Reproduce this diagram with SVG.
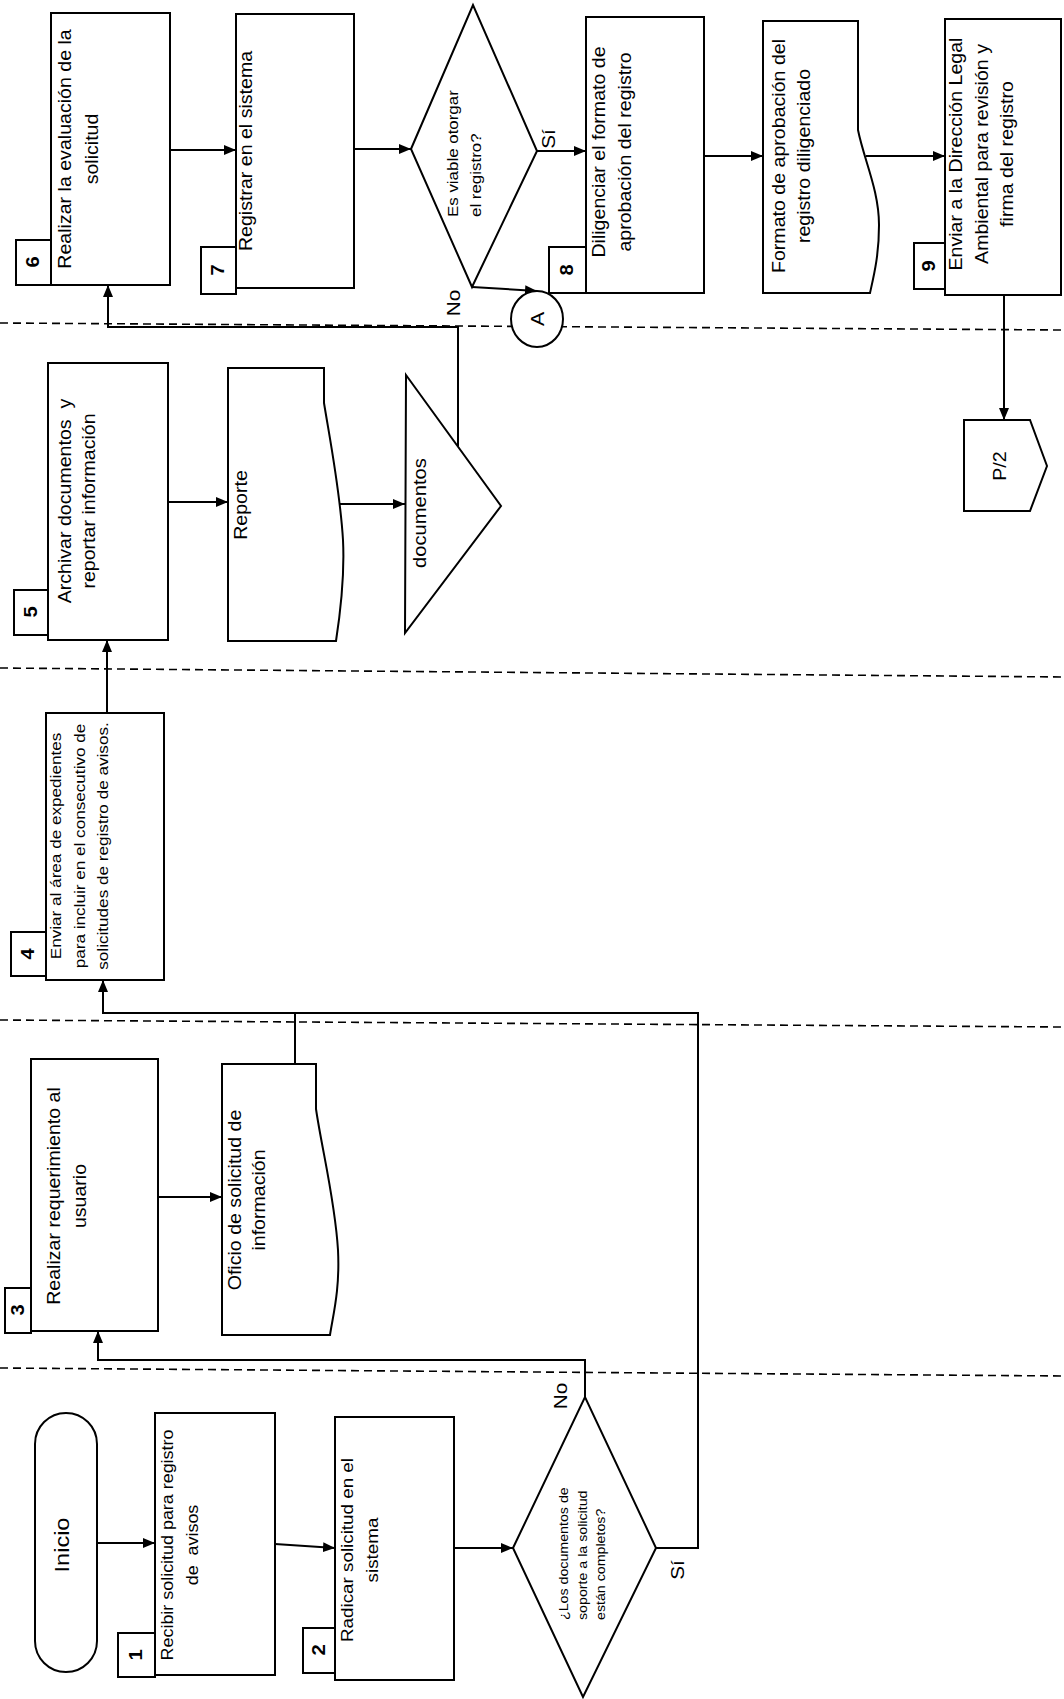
<svg xmlns="http://www.w3.org/2000/svg" width="1064" height="1699" viewBox="0 0 1064 1699">
<style>
.bg{fill:#fff}
.box{fill:#fff;stroke:#000;stroke-width:2}
.num{fill:#fff;stroke:#000;stroke-width:2}
.conn{fill:none;stroke:#000;stroke-width:2}
.dash{fill:none;stroke:#000;stroke-width:1.6;stroke-dasharray:8 5}
text{font-family:"Liberation Sans",Arial,sans-serif;fill:#000;dominant-baseline:central}
.t{font-size:17.5px}
.s{font-size:15.3px}
.d{font-size:12.7px}
.n{font-size:18px;font-weight:bold}
.lbl{font-size:18.5px}
</style>
<defs>
<marker id="arr" viewBox="0 0 12 10" refX="12" refY="5" markerWidth="12" markerHeight="10" markerUnits="userSpaceOnUse" orient="auto">
<path d="M0,0 L12,5 L0,10 z" fill="#000"/>
</marker>
</defs>
<rect class="bg" x="0" y="0" width="1064" height="1699"/>

<g id="lanes">
<line class="dash" x1="0" y1="323" x2="1064" y2="330"/>
<line class="dash" x1="0" y1="668" x2="1064" y2="677"/>
<line class="dash" x1="0" y1="1020" x2="1064" y2="1027"/>
<line class="dash" x1="0" y1="1368" x2="1064" y2="1376"/>
</g>

<g id="connectors">
<line class="conn" x1="97" y1="1543" x2="155" y2="1543" marker-end="url(#arr)"/>
<line class="conn" x1="275" y1="1544" x2="335" y2="1548" marker-end="url(#arr)"/>
<line class="conn" x1="454" y1="1548" x2="513" y2="1548" marker-end="url(#arr)"/>
<polyline class="conn" points="585,1397 585,1360 98,1360 98,1331" marker-end="url(#arr)"/>
<polyline class="conn" points="656,1548 698,1548 698,1013 103,1013 103,980" marker-end="url(#arr)"/>
<line class="conn" x1="158" y1="1197" x2="222" y2="1197" marker-end="url(#arr)"/>
<line class="conn" x1="295" y1="1064" x2="295" y2="1013"/>
<line class="conn" x1="107" y1="713" x2="107" y2="640" marker-end="url(#arr)"/>
<line class="conn" x1="168" y1="502" x2="228" y2="502" marker-end="url(#arr)"/>
<line class="conn" x1="340" y1="504" x2="405" y2="504" marker-end="url(#arr)"/>
<polyline class="conn" points="458,446 458,327 108,327 108,285" marker-end="url(#arr)"/>
<line class="conn" x1="170" y1="150" x2="236" y2="150" marker-end="url(#arr)"/>
<line class="conn" x1="354" y1="149" x2="411" y2="149" marker-end="url(#arr)"/>
<line class="conn" x1="537" y1="151" x2="586" y2="151" marker-end="url(#arr)"/>
<line class="conn" x1="704" y1="156" x2="763" y2="156" marker-end="url(#arr)"/>
<line class="conn" x1="866" y1="156" x2="945" y2="156" marker-end="url(#arr)"/>
<line class="conn" x1="1004" y1="295" x2="1004" y2="420" marker-end="url(#arr)"/>
<line class="conn" x1="472" y1="287" x2="537" y2="291" marker-end="url(#arr)"/>
<g transform="translate(0,303) rotate(-90) scale(1.12,1)"><text class="lbl" text-anchor="middle" x="0" y="453">No</text></g>
<g transform="translate(0,139) rotate(-90) scale(1.12,1)"><text class="lbl" text-anchor="middle" x="0" y="548">Sí</text></g>
<g transform="translate(0,1396) rotate(-90) scale(1.12,1)"><text class="lbl" text-anchor="middle" x="0" y="560">No</text></g>
<g transform="translate(0,1570) rotate(-90) scale(1.12,1)"><text class="lbl" text-anchor="middle" x="0" y="677">Sí</text></g>
</g>

<g id="inicio">
<rect class="box" x="35" y="1413" width="62" height="259" rx="31" ry="31"/>
<g transform="translate(0,1545) rotate(-90) scale(1.12,1)"><text text-anchor="middle" style="font-size:21px" x="0" y="62">Inicio</text></g>
</g>

<g id="n1">
<rect class="box" x="155" y="1413" width="120" height="262"/>
<rect class="num" x="118" y="1633" width="37" height="44"/>
<g transform="translate(0,1655) rotate(-90) scale(1.12,1)"><text class="n" text-anchor="middle" x="0" y="136">1</text></g>
<g transform="translate(0,1545) rotate(-90) scale(1.12,1)"><text text-anchor="middle" style="font-size:16px" xml:space="preserve"><tspan x="0" y="167">Recibir solicitud para registro</tspan><tspan x="0" y="192">de  avisos</tspan></text></g>
</g>

<g id="n2">
<rect class="box" x="335" y="1417" width="119" height="263"/>
<rect class="num" x="303" y="1628" width="32" height="45"/>
<g transform="translate(0,1650) rotate(-90) scale(1.12,1)"><text class="n" text-anchor="middle" x="0" y="319">2</text></g>
<g transform="translate(0,1550) rotate(-90) scale(1.12,1)"><text text-anchor="middle" style="font-size:16.8px"><tspan x="0" y="347">Radicar solicitud en el</tspan><tspan x="0" y="372">sistema</tspan></text></g>
</g>

<g id="d1">
<polygon class="box" points="513,1548 585,1397 656,1548 583,1697"/>
<g transform="translate(0,1620) rotate(-90) scale(1.12,1)"><text class="d" text-anchor="start"><tspan x="0" y="563">¿Los documentos de</tspan><tspan x="0" y="582">soporte a la solicitud</tspan><tspan x="0" y="600">están completos?</tspan></text></g>
</g>

<g id="n3">
<rect class="box" x="31" y="1059" width="127" height="272"/>
<rect class="num" x="5" y="1288" width="26" height="45"/>
<g transform="translate(0,1310) rotate(-90) scale(1.12,1)"><text class="n" text-anchor="middle" x="0" y="18">3</text></g>
<g transform="translate(0,1196) rotate(-90) scale(1.12,1)"><text class="t" text-anchor="middle"><tspan x="0" y="53">Realizar requerimiento al</tspan><tspan x="0" y="79">usuario</tspan></text></g>
</g>

<g id="oficio">
<path class="box" d="M222,1064 H316 V1109 C322,1150 335,1200 338,1250 C340,1290 333,1315 330,1335 H222 Z"/>
<g transform="translate(0,1200) rotate(-90) scale(1.12,1)"><text class="t" text-anchor="middle"><tspan x="0" y="234">Oficio de solicitud de</tspan><tspan x="0" y="258">información</tspan></text></g>
</g>

<g id="n4">
<rect class="box" x="46" y="713" width="118" height="267"/>
<rect class="num" x="11" y="932" width="35" height="44"/>
<g transform="translate(0,954) rotate(-90) scale(1.12,1)"><text class="n" text-anchor="middle" x="0" y="28">4</text></g>
<g transform="translate(0,846) rotate(-90) scale(1.12,1)"><text class="s" text-anchor="middle"><tspan x="0" y="55">Enviar al área de expedientes</tspan><tspan x="0" y="79">para incluir en el consecutivo de</tspan><tspan x="0" y="102">solicitudes de registro de avisos.</tspan></text></g>
</g>

<g id="n5">
<rect class="box" x="48" y="363" width="120" height="277"/>
<rect class="num" x="14" y="590" width="34" height="45"/>
<g transform="translate(0,612) rotate(-90) scale(1.12,1)"><text class="n" text-anchor="middle" x="0" y="31">5</text></g>
<g transform="translate(0,501) rotate(-90) scale(1.12,1)"><text class="t" text-anchor="middle" xml:space="preserve"><tspan x="0" y="64">Archivar documentos  y</tspan><tspan x="0" y="88">reportar información</tspan></text></g>
</g>

<g id="reporte">
<path class="box" d="M228,368 H324 V403 C330,440 340,490 343,540 C345,580 340,615 336,641 H228 Z"/>
<g transform="translate(0,505) rotate(-90) scale(1.12,1)"><text class="t" text-anchor="middle" x="0" y="241">Reporte</text></g>
</g>

<g id="documentos">
<polygon class="box" points="406,375 501,506 405,633"/>
<g transform="translate(0,513) rotate(-90) scale(1.12,1)"><text text-anchor="middle" style="font-size:18px" x="0" y="420">documentos</text></g>
</g>

<g id="n6">
<rect class="box" x="51" y="13" width="119" height="272"/>
<rect class="num" x="16" y="240" width="35" height="45"/>
<g transform="translate(0,262) rotate(-90) scale(1.12,1)"><text class="n" text-anchor="middle" x="0" y="33">6</text></g>
<g transform="translate(0,149) rotate(-90) scale(1.12,1)"><text class="t" text-anchor="middle"><tspan x="0" y="64">Realizar la evaluación de la</tspan><tspan x="0" y="91">solicitud</tspan></text></g>
</g>

<g id="n7">
<rect class="box" x="236" y="14" width="118" height="274"/>
<rect class="num" x="201" y="247" width="35" height="47"/>
<g transform="translate(0,270) rotate(-90) scale(1.12,1)"><text class="n" text-anchor="middle" x="0" y="218">7</text></g>
<g transform="translate(0,151) rotate(-90) scale(1.12,1)"><text class="t" text-anchor="middle" x="0" y="246">Registrar en el sistema</text></g>
</g>

<g id="dA">
<polygon class="box" points="411,149 473,5 537,151 472,287"/>
<g transform="translate(0,217) rotate(-90) scale(1.12,1)"><text text-anchor="start" style="font-size:15.1px"><tspan x="0" y="452">Es viable otorgar</tspan><tspan x="0" y="475">el registro?</tspan></text></g>
</g>

<g id="connA">
<ellipse class="box" cx="537" cy="319" rx="26" ry="28"/>
<g transform="translate(0,319) rotate(-90) scale(1.12,1)"><text text-anchor="middle" style="font-size:19px" x="0" y="537">A</text></g>
</g>

<g id="n8">
<rect class="box" x="586" y="17" width="118" height="276"/>
<rect class="num" x="549" y="247" width="37" height="46"/>
<g transform="translate(0,270) rotate(-90) scale(1.12,1)"><text class="n" text-anchor="middle" x="0" y="567">8</text></g>
<g transform="translate(0,152) rotate(-90) scale(1.12,1)"><text class="t" text-anchor="middle"><tspan x="0" y="598">Diligenciar el formato de</tspan><tspan x="0" y="624">aprobación del registro</tspan></text></g>
</g>

<g id="formato">
<path class="box" d="M763,21 H858 V130 C864,160 879,190 879,225 C879,255 874,275 870,293 H763 Z"/>
<g transform="translate(0,156) rotate(-90) scale(1.12,1)"><text class="t" text-anchor="middle"><tspan x="0" y="778">Formato de aprobación del</tspan><tspan x="0" y="803">registro diligenciado</tspan></text></g>
</g>

<g id="n9">
<rect class="box" x="945" y="19" width="116" height="276"/>
<rect class="num" x="914" y="243" width="31" height="46"/>
<g transform="translate(0,266) rotate(-90) scale(1.12,1)"><text class="n" text-anchor="middle" x="0" y="929">9</text></g>
<g transform="translate(0,154) rotate(-90) scale(1.12,1)"><text class="t" text-anchor="middle"><tspan x="0" y="955">Enviar a la Dirección Legal</tspan><tspan x="0" y="981">Ambiental para revisión y</tspan><tspan x="0" y="1006">firma del registro</tspan></text></g>
</g>

<g id="p2">
<path class="box" d="M964,420 H1030 L1047,466 L1030,511 H964 Z"/>
<g transform="translate(0,466) rotate(-90) scale(1.12,1)"><text class="t" text-anchor="middle" x="0" y="1000">P/2</text></g>
</g>
</svg>
